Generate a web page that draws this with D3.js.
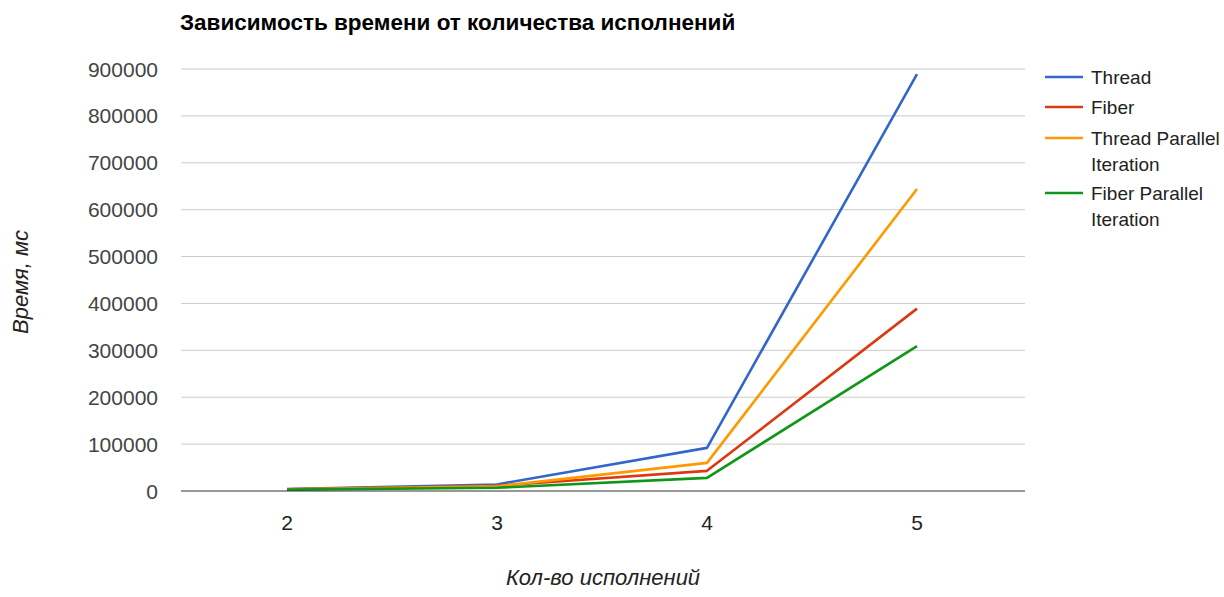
<!DOCTYPE html>
<html>
<head>
<meta charset="utf-8">
<script src="https://cdn.jsdelivr.net/npm/d3@7"></script>
<style>
body { margin: 0; background: #fff; }
svg { font-family: Arial, "Liberation Sans", sans-serif; }
</style>
</head>
<body>
<div id="chart"></div>
<script>
var categories = ['2', '3', '4', '5'];
var seriesNames = ['Thread', 'Fiber', 'Thread Parallel Iteration', 'Fiber Parallel Iteration'];
var legendLines = [['Thread'], ['Fiber'], ['Thread Parallel', 'Iteration'], ['Fiber Parallel', 'Iteration']];
var thread = [4000, 14000, 92000, 889000];
var fiber = [3500, 11000, 43000, 389000];
var threadParallel = [3500, 10000, 60000, 644000];
var fiberParallel = [3000, 7000, 28000, 309000];
var yTicks = [0, 100000, 200000, 300000, 400000, 500000, 600000, 700000, 800000, 900000];
var colors = ['#3366cc', '#dc3912', '#ff9900', '#109618'];

var series = [thread, fiber, threadParallel, fiberParallel];

var width = 1224;
var height = 597;
var plotLeft = 182, plotRight = 1022, plotTop = 69, plotBottom = 491;

var svg = d3.select('#chart')
    .append('svg')
    .attr('width', width)
    .attr('height', height);

var x = d3.scaleBand()
    .domain(categories)
    .range([plotLeft, plotRight]);

var y = d3.scaleLinear()
    .domain([0, 900000])
    .range([plotBottom, plotTop]);

// gridlines
svg.selectAll('.grid')
    .data(yTicks.slice(1))
    .enter()
    .append('line')
    .attr('x1', 181)
    .attr('x2', 1025)
    .attr('y1', function (d) { return y(d); })
    .attr('y2', function (d) { return y(d); })
    .style('stroke', '#cccccc')
    .style('stroke-width', 1);

// y labels
svg.selectAll('.ylab')
    .data(yTicks)
    .enter()
    .append('text')
    .attr('x', 158)
    .attr('y', function (d) { return y(d) + 7.5; })
    .attr('text-anchor', 'end')
    .style('font-size', '21px')
    .style('fill', '#444')
    .text(function (d) { return d; });

// x labels
svg.selectAll('.xlab')
    .data(categories)
    .enter()
    .append('text')
    .attr('x', function (d) { return x(d) + x.bandwidth() / 2; })
    .attr('y', 530)
    .attr('text-anchor', 'middle')
    .style('font-size', '21px')
    .style('fill', '#222')
    .text(function (d) { return d; });

var line = d3.line()
    .x(function (d, i) { return x(categories[i]) + x.bandwidth() / 2; })
    .y(function (d) { return y(d); });

series.forEach(function (s, i) {
    svg.append('path')
        .datum(s)
        .attr('d', line)
        .style('fill', 'none')
        .style('stroke', colors[i])
        .style('stroke-width', 2.6)
        .style('stroke-linejoin', 'round');
});

// baseline
svg.append('line')
    .attr('x1', 181)
    .attr('x2', 1025)
    .attr('y1', y(0))
    .attr('y2', y(0))
    .style('stroke', '#333')
    .style('stroke-width', 1.2);

// title
svg.append('text')
    .attr('x', 180)
    .attr('y', 30)
    .style('font-size', '22.5px')
    .style('font-weight', 'bold')
    .style('fill', '#000')
    .text('Зависимость времени от количества исполнений');

// axis titles
svg.append('text')
    .attr('x', 603)
    .attr('y', 585)
    .attr('text-anchor', 'middle')
    .style('font-size', '22px')
    .style('font-style', 'italic')
    .style('fill', '#222')
    .text('Кол-во исполнений');

svg.append('text')
    .attr('transform', 'translate(28,282) rotate(-90)')
    .attr('text-anchor', 'middle')
    .style('font-size', '22px')
    .style('font-style', 'italic')
    .style('fill', '#222')
    .text('Время, мс');

// legend
var legendY = [77, 107, 138, 193];
legendLines.forEach(function (lines, i) {
    svg.append('line')
        .attr('x1', 1045)
        .attr('x2', 1083)
        .attr('y1', legendY[i])
        .attr('y2', legendY[i])
        .style('stroke', colors[i])
        .style('stroke-width', 2.6);
    lines.forEach(function (t, j) {
        svg.append('text')
            .attr('x', 1091)
            .attr('y', legendY[i] + 7 + j * 26)
            .style('font-size', '19px')
            .style('fill', '#222')
            .text(t);
    });
});
</script>
</body>
</html>
